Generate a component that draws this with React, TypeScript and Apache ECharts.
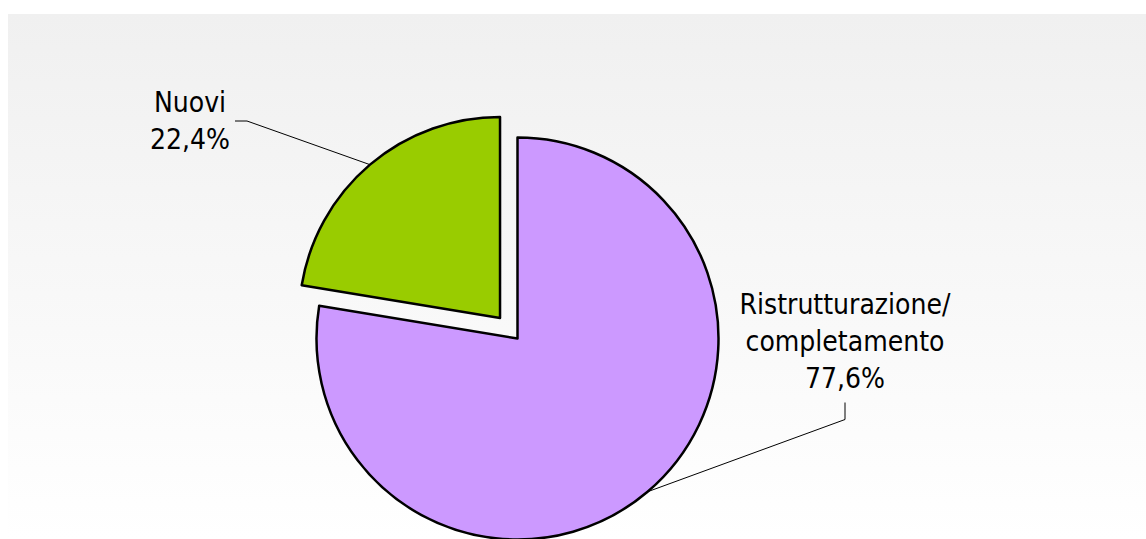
import React, { useEffect, useRef } from "react";
import * as echarts from "echarts";

const categories = ["Ristrutturazione/completamento", "Nuovi"];
const values = [77.6, 22.4];
const colors = ["#CC99FF", "#99CC00"];
const exploded = [false, true];

export default function App() {
  const ref = useRef<HTMLDivElement>(null);
  useEffect(() => {
    const chart = echarts.init(ref.current!, null, { renderer: "svg" });
    const cx = 509.5;
    const cy = 324.5;
    const r = 201;
    const explodeOffset = 27;
    const total = values.reduce((a, b) => a + b, 0);
    const shift = (i: number) => {
      let before = 0;
      for (let k = 0; k < i; k++) before += values[k];
      const mid = -Math.PI / 2 + ((before + values[i] / 2) / total) * Math.PI * 2;
      return [Math.cos(mid) * explodeOffset, Math.sin(mid) * explodeOffset];
    };
    // label centres (canvas px)
    const labelPos = [
      [837, 327],
      [182, 107],
    ];
    const fontFamily = "'DejaVu Sans Condensed', 'DejaVu Sans', sans-serif";

    const series = categories.map((_, s) => {
      const [sx, sy] = exploded[s] ? shift(s) : [0, 0];
      return {
        type: "pie",
        center: [cx + sx, cy + sy],
        radius: r,
        startAngle: 90,
        clockwise: true,
        avoidLabelOverlap: false,
        silent: true,
        z: 2,
        data: categories.map((name, i) => ({
          name,
          value: values[i],
          itemStyle:
            i === s
              ? { color: colors[i], borderColor: "#000000", borderWidth: 2.5 }
              : { color: "rgba(0,0,0,0)", borderWidth: 0 },
          label: { show: i === s },
          labelLine: { show: i === s },
        })),
        label: {
          position: "outside",
          formatter: (p: any) =>
            String(p.name).replace("/", "/\n") +
            "\n" +
            Number(p.percent).toFixed(1).replace(".", ",") +
            "%",
          fontFamily,
          fontSize: 28,
          lineHeight: 37,
          color: "#000000",
        },
        labelLine: {
          length: 20,
          length2: 20,
          lineStyle: { color: "#000000", width: 1 },
        },
        emphasis: { disabled: true },
        labelLayout: (params: any) => {
          const i = params.dataIndex;
          const rect = params.labelRect;
          const w = rect.width;
          const h = rect.height;
          const p0 = params.labelLinePoints ? params.labelLinePoints[0] : [cx, cy];
          const [x, y] = labelPos[i];
          if (i === 1) {
            const right = x + w / 2;
            return {
              x,
              y,
              align: "center",
              verticalAlign: "middle",
              labelLinePoints: [p0, [right + 17, y], [right + 5, y]],
            };
          }
          const bottom = y + h / 2;
          return {
            x,
            y,
            align: "center",
            verticalAlign: "middle",
            labelLinePoints: [p0, [x, bottom + 23], [x, bottom + 6]],
          };
        },
      };
    });

    chart.setOption({
      animation: false,
      backgroundColor: new echarts.graphic.LinearGradient(0, 0, 0, 1, [
        { offset: 0, color: "#f0f0f0" },
        { offset: 1, color: "#ffffff" },
      ]),
      series,
    });
    return () => chart.dispose();
  }, []);
  return (
    <div
      ref={ref}
      style={{ position: "absolute", left: 8, top: 14, width: 1138, height: 525 }}
    />
  );
}
